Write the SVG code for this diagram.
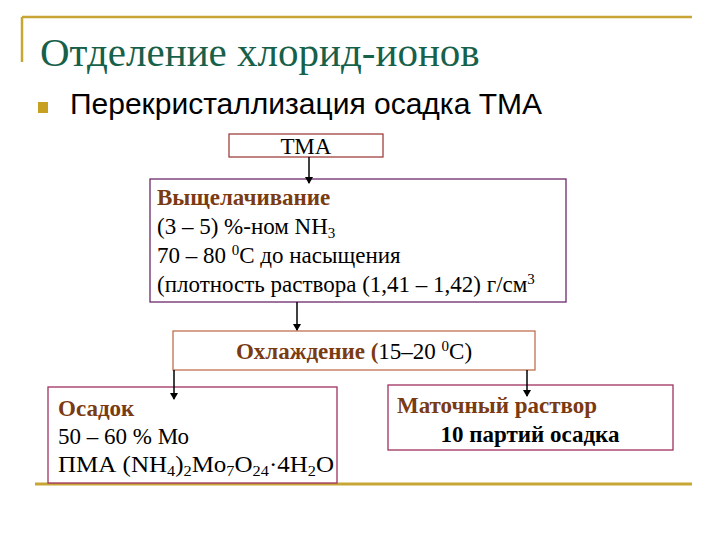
<svg xmlns="http://www.w3.org/2000/svg" width="720" height="540" viewBox="0 0 720 540">
<style>
.s{font-family:"Liberation Serif",serif;font-size:23px;fill:#000}
.h{font-weight:bold;fill:#7a3a12}
.u{font-size:15px}
.box{fill:#fff;stroke-width:1.3}
.ln{stroke:#000;stroke-width:1.5;marker-end:url(#a)}
</style>
<defs><marker id="a" markerWidth="8" markerHeight="8" refX="6" refY="4" orient="auto" markerUnits="userSpaceOnUse"><path d="M0,0L7,4L0,8z" fill="#000"/></marker></defs>
<rect width="720" height="540" fill="#fff"/>
<g id="frame" stroke="#c8a636" stroke-width="2.5" fill="none">
<path d="M22,17H692M22,17V62"/>
<path d="M35,484H692" stroke-width="3"/>
</g>
<text x="40" y="66" font-family="Liberation Serif,serif" font-size="41" fill="#17604a">Отделение хлорид-ионов</text>
<rect x="38" y="102" width="10" height="11" fill="#c8a020"/>
<text x="70" y="114" font-family="Liberation Sans,sans-serif" font-size="30">Перекристаллизация осадка ТМА</text>
<g id="tma"><rect class="box" x="229" y="134" width="154" height="23" stroke="#a04040"/><text class="s" x="306" y="154" text-anchor="middle" font-size="21">ТМА</text></g>
<g id="leach"><rect class="box" x="150" y="179" width="416" height="123" stroke="#6b2a6b"/>
<text class="s h" x="157" y="205">Выщелачивание</text>
<text class="s" x="157" y="234">(3 – 5) %-ном NH<tspan class="u" dy="4">3</tspan></text>
<text class="s" x="157" y="263">70 – 80 <tspan class="u" dy="-8">0</tspan><tspan dy="8">С до насыщения</tspan></text>
<text class="s" x="157" y="292">(плотность раствора (1,41 – 1,42) г/см<tspan class="u" dy="-8">3</tspan></text></g>
<g id="cool"><rect class="box" x="173" y="331" width="362" height="39" stroke="#c07050"/>
<text class="s" x="354" y="359" text-anchor="middle"><tspan class="h">Охлаждение  (</tspan>15–20 <tspan class="u" dy="-8">0</tspan><tspan dy="8">С)</tspan></text></g>
<g id="sed"><rect class="box" x="48" y="387" width="289" height="96" stroke="#a03060"/>
<text class="s h" x="58" y="416">Осадок</text>
<text class="s" x="58" y="444">50 – 60 % Мо</text>
<text class="s" x="58" y="472" textLength="276" lengthAdjust="spacingAndGlyphs">ПМА (NH<tspan class="u" dy="4">4</tspan><tspan dy="-4">)</tspan><tspan class="u" dy="4">2</tspan><tspan dy="-4">Mo</tspan><tspan class="u" dy="4">7</tspan><tspan dy="-4">O</tspan><tspan class="u" dy="4">24</tspan><tspan dy="-4">·4H</tspan><tspan class="u" dy="4">2</tspan><tspan dy="-4">O</tspan></text></g>
<g id="mother"><rect class="box" x="388" y="385" width="285" height="65" stroke="#a03060"/>
<text class="s h" x="397" y="413">Маточный раствор</text>
<text class="s" x="530" y="442" text-anchor="middle" font-weight="bold">10 партий осадка</text></g>
<g id="connectors">
<line class="ln" x1="309" y1="157" x2="309" y2="183"/>
<line class="ln" x1="297" y1="302" x2="297" y2="330"/>
<line class="ln" x1="174" y1="370" x2="174" y2="399"/>
<line class="ln" x1="527" y1="370" x2="527" y2="396"/>
</g>
</svg>
